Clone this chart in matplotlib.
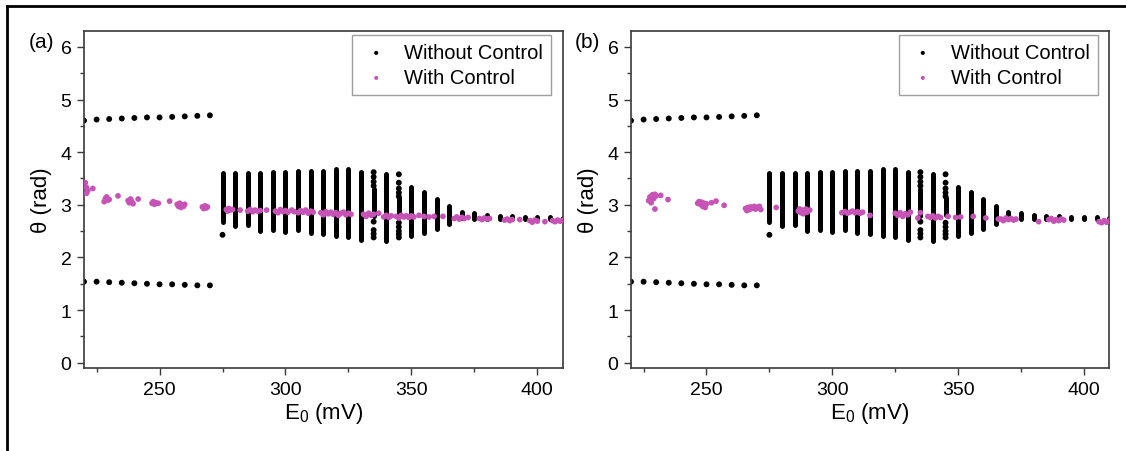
import matplotlib
matplotlib.use('Agg')
import matplotlib.pyplot as plt
from matplotlib.lines import Line2D
from matplotlib.ticker import MultipleLocator

plt.rcParams['font.family'] = ['Liberation Sans', 'DejaVu Sans']
plt.rcParams['mathtext.fontset'] = 'custom'
plt.rcParams['mathtext.rm'] = 'Liberation Sans'
plt.rcParams['mathtext.it'] = 'Liberation Sans'

# WITHOUT CONTROL - period-2 branches below 275 mV
branch_E = [220, 225, 230, 235, 240, 245, 250, 255, 260, 265, 270]
branch_up = [4.60, 4.62, 4.63, 4.64, 4.65, 4.66, 4.66, 4.67, 4.68, 4.69, 4.70]
branch_lo = [1.54, 1.54, 1.53, 1.52, 1.51, 1.50, 1.49, 1.49, 1.48, 1.47, 1.47]

# WITHOUT CONTROL - chaotic bands (each drawn as a solid column of points)
bar_E = [275, 280, 285, 290, 295, 300, 305, 310, 315, 320, 325, 330, 335, 340,
         345, 350, 355, 360, 365, 370, 375, 380, 385, 390, 395, 400, 405, 410]
bar_lo = [2.67, 2.59, 2.61, 2.51, 2.52, 2.48, 2.52, 2.47, 2.44, 2.41, 2.38, 2.34, 2.78, 2.31,
          2.80, 2.41, 2.47, 2.54, 2.64, 2.75, 2.74, 2.74, 2.73, 2.73, 2.74, 2.74, 2.73, 2.72]
bar_hi = [3.60, 3.60, 3.60, 3.60, 3.63, 3.63, 3.64, 3.64, 3.65, 3.68, 3.68, 3.63, 3.30, 3.59,
          3.12, 3.33, 3.24, 3.11, 2.97, 2.87, 2.85, 2.81, 2.79, 2.78, 2.77, 2.76, 2.76, 2.75]

# isolated points of the no-control map
iso_E = [275, 335, 335, 335, 335, 335, 335, 335, 335,
         345, 345, 345, 345, 345, 345, 345, 345, 345, 345]
iso_th = [2.43, 3.62, 3.53, 3.44, 3.36, 2.68, 2.52, 2.45, 2.38,
          3.58, 3.42, 3.31, 3.23, 3.16, 2.66, 2.58, 2.50, 2.44, 2.38]

# WITH CONTROL - panel (a)
ctrl_a_E = [220.5, 221, 221.5, 221, 223.5,
            228, 228.5, 229, 229.5, 230, 233.5,
            237.5, 238, 238.5, 239, 239.5, 241.5,
            247, 247.5, 248, 248.5, 249.5, 254,
            257, 257.5, 258, 258.5, 259, 259.5, 260,
            267, 267.5, 268, 268.5, 269,
            276.5, 277, 277.5, 278, 279, 282,
            285, 286, 287, 288, 289, 290, 292.5,
            296, 297, 298, 299, 300, 301, 302.5, 303.5,
            305, 306, 307, 308, 309, 310, 311,
            314, 315, 316, 317, 318, 319, 320, 321, 322, 323, 324, 325, 326,
            331, 332, 333, 334, 335, 337,
            339, 340, 341, 342,
            344, 345, 346, 347, 348, 349, 350, 351,
            353, 355, 357, 359, 362.5,
            367, 368, 369, 370, 371, 372.5,
            377, 378, 379, 380, 381,
            387, 388, 389, 390, 393,
            397, 398, 399, 400, 403,
            406, 407, 408, 409, 410]
ctrl_a_th = [3.42, 3.33, 3.27, 3.22, 3.31,
             3.06, 3.12, 3.15, 3.09, 3.10, 3.17,
             3.08, 3.04, 3.11, 3.06, 3.02, 3.11,
             3.03, 3.06, 3.01, 3.04, 3.03, 3.07,
             3.01, 2.97, 3.03, 2.95, 3.00, 2.97, 3.01,
             2.96, 2.93, 2.98, 2.94, 2.96,
             2.91, 2.88, 2.93, 2.90, 2.91, 2.90,
             2.88, 2.91, 2.87, 2.90, 2.88, 2.89, 2.90,
             2.88, 2.85, 2.91, 2.87, 2.89, 2.86, 2.90, 2.87,
             2.85, 2.89, 2.86, 2.90, 2.84, 2.88, 2.86,
             2.85, 2.81, 2.87, 2.83, 2.86, 2.82, 2.85, 2.80, 2.84, 2.86, 2.81, 2.84, 2.82,
             2.82, 2.78, 2.84, 2.80, 2.82, 2.84,
             2.77, 2.80, 2.76, 2.79,
             2.78, 2.75, 2.80, 2.77, 2.79, 2.76, 2.79, 2.77,
             2.80, 2.78, 2.77, 2.78, 2.78,
             2.74, 2.77, 2.73, 2.76, 2.74, 2.76,
             2.74, 2.72, 2.75, 2.73, 2.74,
             2.71, 2.73, 2.70, 2.72, 2.72,
             2.70, 2.67, 2.71, 2.69, 2.68,
             2.70, 2.68, 2.71, 2.69, 2.70]

# WITH CONTROL - panel (b)
ctrl_b_E = [227, 227.5, 228, 228.5, 229, 229.5, 230, 229.5, 228,
            231.8, 234.7,
            246.5, 247, 247.5, 248, 248.5, 249, 249.5, 250,
            252, 253.8, 257,
            265.5, 266, 266.5, 267, 267.5, 268, 269, 269.5, 270, 271, 271.6,
            277.7,
            286.5, 287, 287.5, 288, 288.5, 289, 289.5, 290, 291,
            303.8, 305, 306, 307, 308, 309, 310, 311, 312,
            315,
            325, 326, 327, 328, 329, 330, 331,
            334, 335,
            338, 339, 340, 341, 342, 343,
            346, 349, 351,
            356, 361, 366,
            367, 368, 369, 370, 371, 372, 373,
            382,
            386, 387, 388, 389, 390, 391, 392,
            406, 407, 408, 409, 410]
ctrl_b_th = [3.08, 3.15, 3.04, 3.19, 3.12, 3.20, 3.17, 2.92, 3.10,
             3.18, 3.10,
             3.03, 3.06, 3.01, 3.05, 2.97, 3.03, 2.95, 3.02,
             3.04, 3.07, 2.99,
             2.93, 2.89, 2.95, 2.91, 2.96, 2.93, 2.97, 2.92, 2.95, 2.97, 2.91,
             2.95,
             2.88, 2.92, 2.85, 2.90, 2.83, 2.88, 2.92, 2.86, 2.90,
             2.85, 2.87, 2.84, 2.86, 2.88, 2.85, 2.87, 2.84, 2.86,
             2.80,
             2.84, 2.80, 2.85, 2.78, 2.83, 2.81, 2.86,
             2.75, 2.85,
             2.78, 2.76, 2.79, 2.75, 2.78, 2.76,
             2.78, 2.76, 2.77,
             2.78, 2.75, 2.73,
             2.73, 2.70, 2.75, 2.72, 2.74, 2.71, 2.73,
             2.68,
             2.72, 2.74, 2.69, 2.72, 2.70, 2.73, 2.71,
             2.68, 2.66, 2.70, 2.67, 2.69]

pink = '#c653b5'
spine_col = '#3a3a3a'

fig = plt.figure(figsize=(11.26, 4.52), dpi=100)
ax_a = fig.add_axes([0.0746, 0.1836, 0.425, 0.7454])
ax_b = fig.add_axes([0.5604, 0.1836, 0.4246, 0.7454])

for ax, cE, cth in [(ax_a, ctrl_a_E, ctrl_a_th), (ax_b, ctrl_b_E, ctrl_b_th)]:
    # no control
    ax.vlines(bar_E, bar_lo, bar_hi, colors='black', linewidth=3.6, capstyle='round', zorder=2)
    ax.scatter(branch_E + branch_E, branch_up + branch_lo, s=18, color='black',
               edgecolors='none', zorder=2, label='Without Control')
    ax.scatter(iso_E, iso_th, s=18, color='black', edgecolors='none', zorder=2)
    # with control
    ax.scatter(cE, cth, s=17, color=pink, edgecolors='none', zorder=3, label='With Control')

    ax.set_xlim(220, 410)
    ax.set_ylim(-0.1, 6.3)
    ax.xaxis.set_major_locator(MultipleLocator(50))
    ax.xaxis.set_minor_locator(MultipleLocator(25))
    ax.yaxis.set_major_locator(MultipleLocator(1))
    ax.yaxis.set_minor_locator(MultipleLocator(0.5))
    ax.tick_params(which='major', direction='out', length=5, width=1, labelsize=14,
                   color=spine_col, pad=4)
    ax.tick_params(which='minor', direction='out', length=3, width=1, color=spine_col)
    for sp in ax.spines.values():
        sp.set_color(spine_col)
        sp.set_linewidth(1.2)

    ax.set_xlabel('E$_0$ (mV)', fontsize=16, labelpad=2)
    ax.set_ylabel('\u03b8 (rad)', fontsize=16, labelpad=6)

    leg = ax.legend(loc='upper right', fontsize=14.5, markerscale=0.7, handletextpad=0.6,
                    borderpad=0.4, labelspacing=0.3, fancybox=False, borderaxespad=0.2,
                    bbox_to_anchor=(0.985, 1.0), handlelength=1.6)
    leg.get_frame().set_edgecolor('#888888')
    leg.get_frame().set_linewidth(1.0)

fig.text(0.037, 0.905, '(a)', fontsize=15, ha='center', va='center')
fig.text(0.522, 0.905, '(b)', fontsize=15, ha='center', va='center')

# frame around the figure (left and top edges visible)
fig.add_artist(Line2D([7 / 1126, 7 / 1126], [0, 1 - 7 / 452], transform=fig.transFigure,
                      color='black', linewidth=2))
fig.add_artist(Line2D([7 / 1126, 1], [1 - 7 / 452, 1 - 7 / 452], transform=fig.transFigure,
                      color='black', linewidth=2))

fig.savefig('out.png', dpi=100)
